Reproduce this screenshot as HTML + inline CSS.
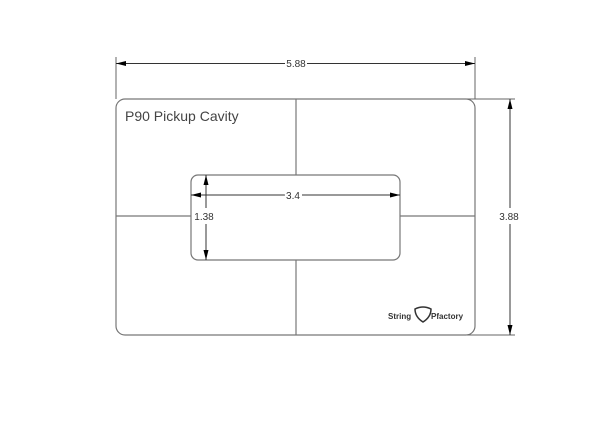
<!DOCTYPE html>
<html><head><style>body{margin:0;background:#fff}svg{display:block}</style></head><body>
<svg width="600" height="425" viewBox="0 0 600 425" xmlns="http://www.w3.org/2000/svg" font-family="Liberation Sans, sans-serif">
<defs>
<marker id="a" markerWidth="10" markerHeight="6" refX="10" refY="3" orient="auto" markerUnits="userSpaceOnUse"><path d="M0,0.5 L10,3 L0,5.5z" fill="#000"/></marker>
</defs>
<g fill="none" stroke="#777" stroke-width="1.2">
<rect x="116" y="99" width="359" height="236" rx="9"/>
<rect x="191" y="175" width="209" height="85" rx="7"/>
<line x1="296" y1="99" x2="296" y2="175"/>
<line x1="296" y1="260" x2="296" y2="335"/>
<line x1="116" y1="216" x2="191" y2="216"/>
<line x1="400" y1="216" x2="475" y2="216"/>
</g>
<g stroke="#666" stroke-width="1">
<line x1="116" y1="57" x2="116" y2="99"/>
<line x1="475" y1="57" x2="475" y2="99"/>
<line x1="467" y1="99" x2="515" y2="99"/>
<line x1="467" y1="335" x2="515" y2="335"/>
</g>
<g stroke="#333" stroke-width="1" fill="none">
<line x1="285" y1="63.5" x2="116" y2="63.5" marker-end="url(#a)"/>
<line x1="307" y1="63.5" x2="475" y2="63.5" marker-end="url(#a)"/>
<line x1="510" y1="208" x2="510" y2="99" marker-end="url(#a)"/>
<line x1="510" y1="224" x2="510" y2="335" marker-end="url(#a)"/>
<line x1="285" y1="195" x2="191" y2="195" marker-end="url(#a)"/>
<line x1="302" y1="195" x2="400" y2="195" marker-end="url(#a)"/>
<line x1="206" y1="208" x2="206" y2="175" marker-end="url(#a)"/>
<line x1="206" y1="224" x2="206" y2="260" marker-end="url(#a)"/>
</g>
<g font-size="10" fill="#333" text-anchor="middle">
<text x="296" y="67">5.88</text>
<text x="509" y="220" style="paint-order:stroke" stroke="#fff" stroke-width="3">3.88</text>
<text x="293" y="199" style="paint-order:stroke" stroke="#fff" stroke-width="3">3.4</text>
<text x="204" y="220" style="paint-order:stroke" stroke="#fff" stroke-width="3">1.38</text>
</g>
<text x="125" y="121" font-size="14" fill="#444">P90 Pickup Cavity</text>
<g font-size="8" font-weight="bold" fill="#333">
<text x="388" y="319">String</text>
<text x="431" y="319">Pfactory</text>
</g>
<path d="M415,309 q8,-4 16,0 q0,8 -8,13 q-8,-5 -8,-13z" fill="none" stroke="#333" stroke-width="1.5"/>
</svg>
</body></html>
